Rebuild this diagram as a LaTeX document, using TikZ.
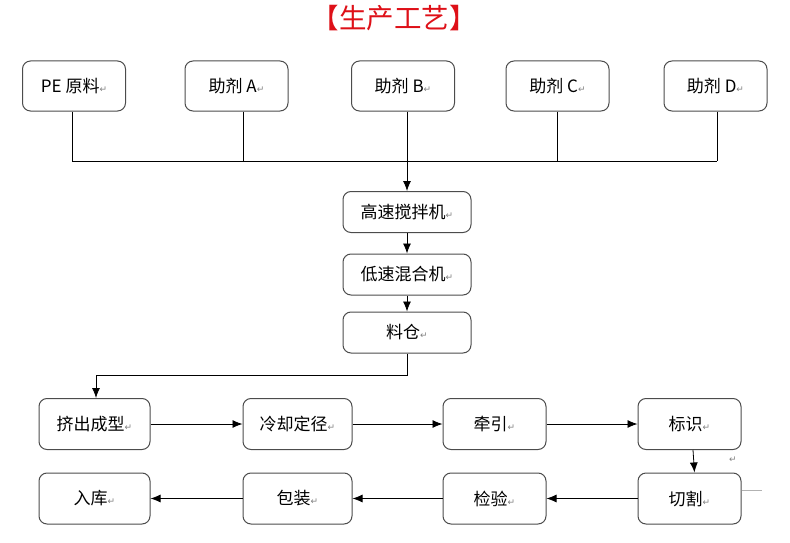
\documentclass[tikz,border=0pt]{standalone}
\usepackage{fontspec}
\setmainfont{Noto Sans CJK SC}
\newfontfamily\symfont{DejaVu Sans}
\usetikzlibrary{arrows.meta}
\definecolor{titlered}{RGB}{222,16,24}
\newcommand\ret{{\fontsize{9}{9}\selectfont\color{gray}\symfont ↵}}
\begin{document}
\begin{tikzpicture}[x=1pt,y=-1pt,>={Latex[length=10pt,width=8pt]},
    box/.style={draw=black!70,line width=1pt,rounded corners=8pt,
        minimum width=103pt,minimum height=50pt,inner sep=0pt,
        font=\fontsize{17}{17}\selectfont},
    mid/.style={box,minimum width=128pt,minimum height=41pt},
    line/.style={line width=0.8pt}]
    \useasboundingbox (0,0) rectangle (790,543);
    \node[text=titlered,font=\fontsize{27.5}{27.5}\selectfont] (title) at (394,18){【生产工艺】};
    \node[box] (pe) at (74,86){PE 原料\ret};
    \node[box] (a) at (236.5,86){助剂 A\ret};
    \node[box] (b) at (403,86){助剂 B\ret};
    \node[box] (c) at (557.5,86){助剂 C\ret};
    \node[box] (d) at (715.5,86){助剂 D\ret};
    \node[mid] (fast) at (407,212){高速搅拌机\ret};
    \node[mid] (slow) at (407,274.5){低速混合机\ret};
    \node[mid] (silo) at (407,332.5){料仓\ret};
    \node[box,minimum width=111pt,minimum height=51pt] (extr) at (94.5,424){挤出成型\ret};
    \node[box,minimum width=109pt,minimum height=51pt] (cool) at (297.5,424){冷却定径\ret};
    \node[box,minimum height=51pt] (pull) at (494.5,424){牵引\ret};
    \node[box,minimum height=51pt] (mark) at (689.5,424){标识\ret};
    \node[box,minimum width=111pt,minimum height=51pt] (store) at (94.5,498.5){入库\ret};
    \node[box,minimum width=109pt,minimum height=51pt] (pack) at (297.5,498.5){包装\ret};
    \node[box,minimum height=51pt] (check) at (494.5,498.5){检验\ret};
    \node[box,minimum height=51pt] (cut) at (689.5,498.5){切割\ret};
    \coordinate (bus) at (406,161);
    \draw[line] ([xshift=-2pt]pe.south) -- ([xshift=-2pt]pe.south |- bus);
    \draw[line] ([xshift=6.5pt]a.south) -- ([xshift=6.5pt]a.south |- bus);
    \draw[line] (c.south) -- (c.south |- bus);
    \draw[line] ([xshift=1.5pt]d.south) -- ([xshift=1.5pt]d.south |- bus);
    \draw[line] ([xshift=-2pt]pe.south |- bus) -- ([xshift=1.5pt]d.south |- bus);
    \draw[line,->] (b.south -| fast) -- (fast.north);
    \draw[line,->] (fast) -- (slow);
    \draw[line,->] (slow) -- (silo);
    \draw[line,->] (silo.south) -- ++(0,22) -| ([xshift=1.5pt]extr.north);
    \draw[line,->] (extr) -- (cool);
    \draw[line,->] (cool) -- (pull);
    \draw[line,->] (pull) -- (mark);
    \draw[line,->] ([xshift=3.5pt]mark.south) -- ([xshift=5pt]cut.north);
    \draw[line,->] (cut) -- (check);
    \draw[line,->] (check) -- (pack);
    \draw[line,->] (pack) -- (store);
    \node (mark2) at (733,460){\ret};
    \draw[black!30,line width=0.6pt] (cut.east |- 0,490) -- ++(20,0);
\end{tikzpicture}
\end{document}
